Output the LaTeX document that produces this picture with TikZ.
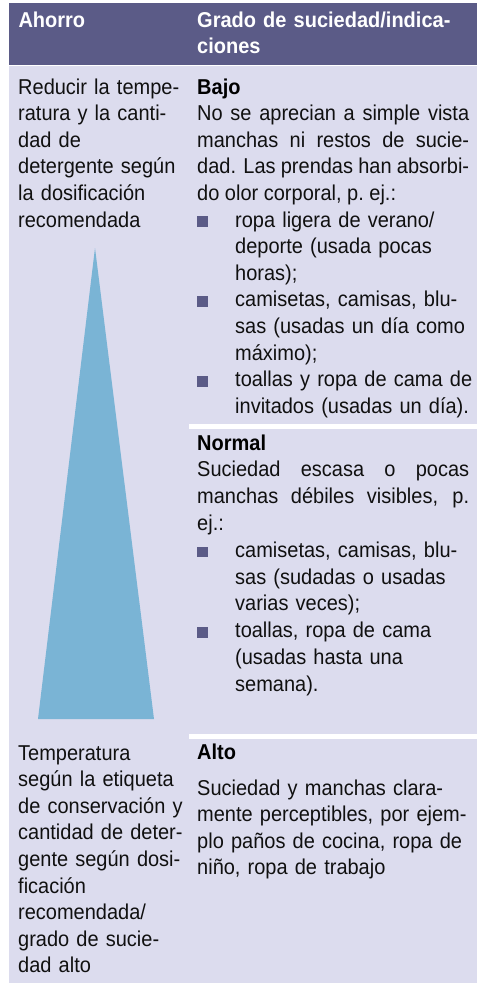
\documentclass[tikz,border=0pt]{standalone}
\usepackage{fontspec}
\setmainfont{Liberation Sans}[FakeStretch=0.93]
\hyphenpenalty=10000
\exhyphenpenalty=10000
\definecolor{hdr}{HTML}{5B5B87}
\definecolor{bodybg}{HTML}{DCDCEE}
\definecolor{tri}{HTML}{7AB4D5}
\definecolor{ink}{HTML}{101010}
\tikzset{
  txt/.style={inner sep=0pt, anchor=base west, text=ink, align=left,
    font=\fontsize{21.5}{26.6}\selectfont},
  wtxt/.style={txt, font=\fontsize{21.5}{26.8}\selectfont},
  jtxt/.style={align=justify, text width=272pt},
  ttl/.style={txt, text=black, font=\fontsize{21.5}{26.6}\selectfont\bfseries},
  hd/.style={txt, text=white, font=\fontsize{21.5}{26.6}\selectfont\bfseries},
  bul/.style={fill=hdr},
  sepline/.style={draw=white, line width=5pt},
}
\begin{document}
\begin{tikzpicture}[x=1pt,y=-1pt]
\useasboundingbox (0,0) rectangle (479,983);
% backgrounds
\fill[hdr] (9,3) rectangle (477,64.8);
\fill[bodybg] (9,66.3) rectangle (477,983);
\fill[tri] (95,248) -- (154,719) -- (38,719) -- cycle;
\draw[sepline] (189,426.5) -- (477,426.5);
\draw[sepline] (189,736) -- (477,736);
% header
\node[hd, text width=160pt] (hA) at (18.3,27.3) {Ahorro};
\node[hd, text width=275pt] (hG) at (197,27.3) {Grado de suciedad/indica-\\ciones};
% left column
\node[txt, text width=168pt] (lTop) at (18,94) {Reducir la tempe-\\ratura y la canti-\\dad de\\detergente según\\la dosificación\\recomendada};
\node[txt, text width=168pt] (lBot) at (18,760) {Temperatura\\según la etiqueta\\de conservación y\\cantidad de deter-\\gente según dosi-\\ficación\\recomendada/\\grado de sucie-\\dad alto};
% Bajo
\node[ttl, text width=272pt] (bajo) at (197,94) {Bajo};
\node[txt, jtxt] (bajoP) at (197,120.6) {No se aprecian a simple vista\linebreak manchas ni restos de sucie-\linebreak dad. Las prendas han absorbi-\linebreak do olor corporal, p.~ej.:};
\fill[bul] (197,216.3) rectangle ++(10.7,10.7);
\node[txt, text width=240pt] (b1) at (235,227) {ropa ligera de verano/\\deporte (usada pocas\\horas);};
\fill[bul] (197,296.1) rectangle ++(10.7,10.7);
\node[txt, text width=240pt] (b2) at (235,306.8) {camisetas, camisas, blu-\\sas (usadas un día como\\máximo);};
\fill[bul] (197,375.9) rectangle ++(10.7,10.7);
\node[txt, text width=240pt] (b3) at (235,386.6) {toallas y ropa de cama de\\invitados (usadas un día).};
% Normal
\node[ttl, text width=272pt] (normal) at (197,450) {Normal};
\node[wtxt, jtxt] (normalP) at (197,476.8) {Suciedad escasa o pocas\linebreak manchas débiles visibles, p.\linebreak ej.:};
\fill[bul] (197,546.5) rectangle ++(10.7,10.7);
\node[wtxt, text width=240pt] (n1) at (235,557.2) {camisetas, camisas, blu-\\sas (sudadas o usadas\\varias veces);};
\fill[bul] (197,626.9) rectangle ++(10.7,10.7);
\node[wtxt, text width=240pt] (n2) at (235,637.6) {toallas, ropa de cama\\(usadas hasta una\\semana).};
% Alto
\node[ttl, text width=272pt] (alto) at (197,759.5) {Alto};
\node[txt, text width=280pt] (altoP) at (197,795) {Suciedad y manchas clara-\\mente perceptibles, por ejem-\\plo paños de cocina, ropa de\\niño, ropa de trabajo};
\end{tikzpicture}
\end{document}
